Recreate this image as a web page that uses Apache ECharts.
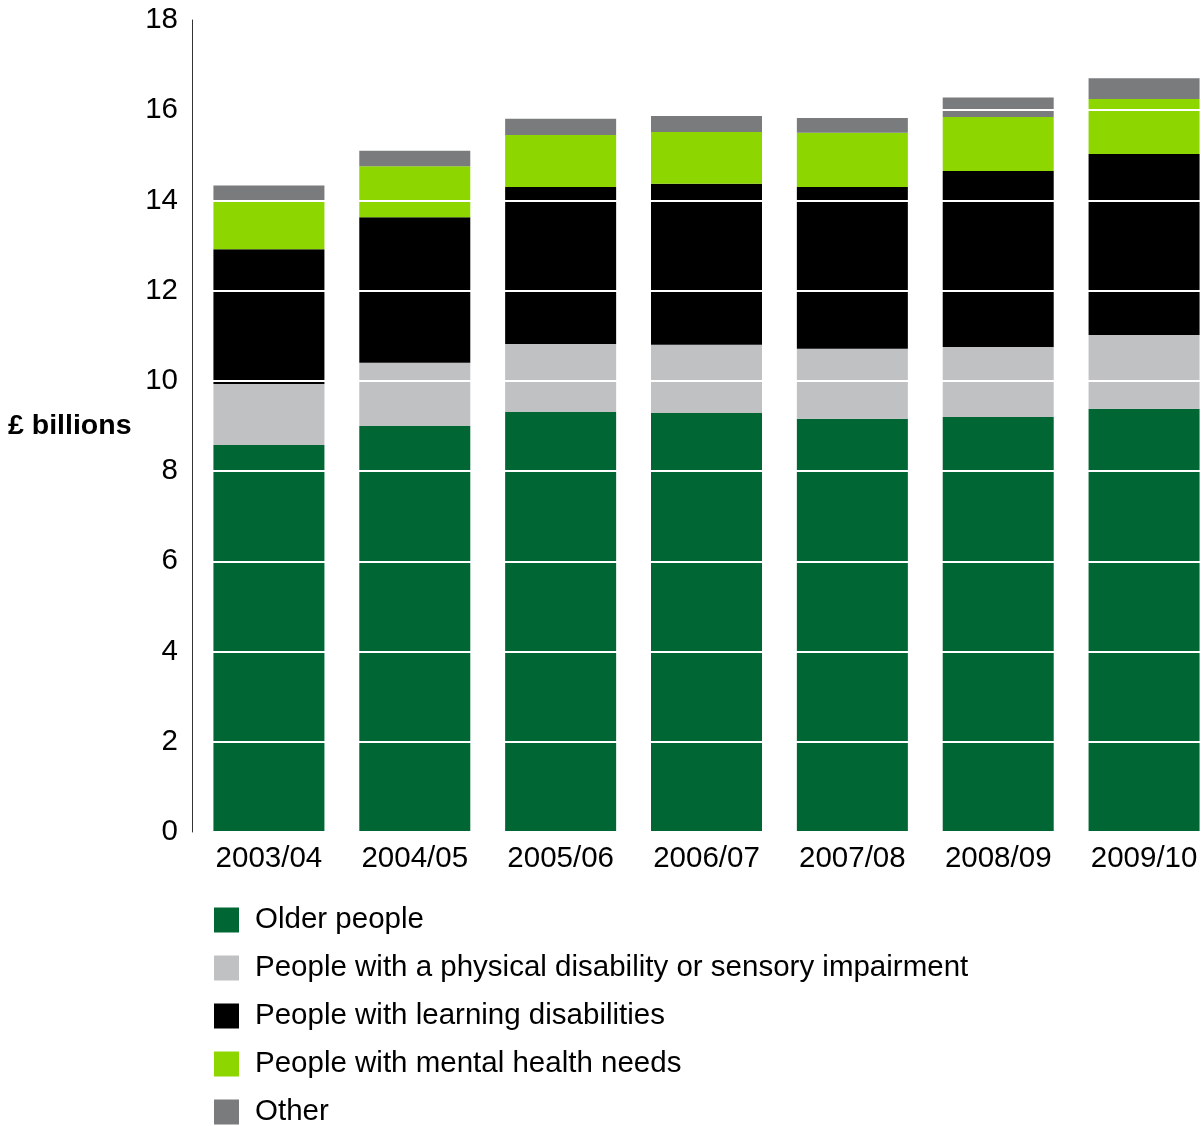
<!DOCTYPE html>
<html>
<head>
<meta charset="utf-8">
<style>html,body{margin:0;padding:0;background:#fff;}#c{width:1203px;height:1126px;}</style>
<script src="https://cdn.jsdelivr.net/npm/echarts@6/dist/echarts.min.js"></script>
</head>
<body>
<div id="c"></div>
<script>
var categories = ['2003/04','2004/05','2005/06','2006/07','2007/08','2008/09','2009/10'];
var seriesNames = ['Older people','People with a physical disability or sensory impairment','People with learning disabilities','People with mental health needs','Other'];
var olderPeople = [8.58, 9.00, 9.31, 9.29, 9.16, 9.20, 9.38];
var physicalDisability = [1.35, 1.40, 1.51, 1.51, 1.55, 1.55, 1.64];
var learningDisabilities = [2.99, 3.23, 3.48, 3.57, 3.59, 3.90, 4.01];
var mentalHealth = [1.07, 1.13, 1.15, 1.15, 1.20, 1.20, 1.22];
var other = [0.34, 0.34, 0.36, 0.35, 0.33, 0.43, 0.46];
var colors = ['#006633','#c0c1c3','#000000','#8dd600','#7a7b7d'];
var FONT = 'Liberation Sans, Arial, Helvetica, sans-serif';

var values = [olderPeople, physicalDisability, learningDisabilities, mentalHealth, other];
var chart = echarts.init(document.getElementById('c'), null, {renderer:'canvas'});
chart.setOption({
  animation: false,
  textStyle: {fontFamily: FONT},
  title: {
    text: '£ billions', left: 3, top: 407,
    textStyle: {fontFamily: FONT, fontSize: 28.5, fontWeight: 'bold', color: '#000'}
  },
  legend: seriesNames.map(function(n, i){
    return {
      orient: 'vertical', left: 209, top: 900 + i * 48,
      itemWidth: 25, itemHeight: 25,
      icon: 'rect',
      textStyle: {fontFamily: FONT, fontSize: 29.5, color: '#000', padding: [0,0,0,11]},
      data: [n]
    };
  }),
  grid: {left: 196, top: 20, right: -14, height: 812, containLabel: false, outerBoundsMode: 'none'},
  xAxis: {
    type: 'category', data: categories,
    axisLine: {show: false}, axisTick: {show: false},
    axisLabel: {fontFamily: FONT, fontSize: 29.5, color: '#000', margin: 12}
  },
  yAxis: {
    type: 'value', min: 0, max: 18, interval: 2,
    offset: 4, z: 10,
    axisLine: {show: true, lineStyle: {color: '#333', width: 1}},
    axisTick: {show: false},
    axisLabel: {fontFamily: FONT, fontSize: 29.5, color: '#000', margin: 14},
    splitLine: {show: true, lineStyle: {color: '#ffffff', width: 2}}
  },
  series: seriesNames.map(function(n, i){
    return {
      name: n, type: 'bar', stack: 'total', data: values[i],
      barWidth: 111, itemStyle: {color: colors[i]}
    };
  })
});
</script>
</body>
</html>
